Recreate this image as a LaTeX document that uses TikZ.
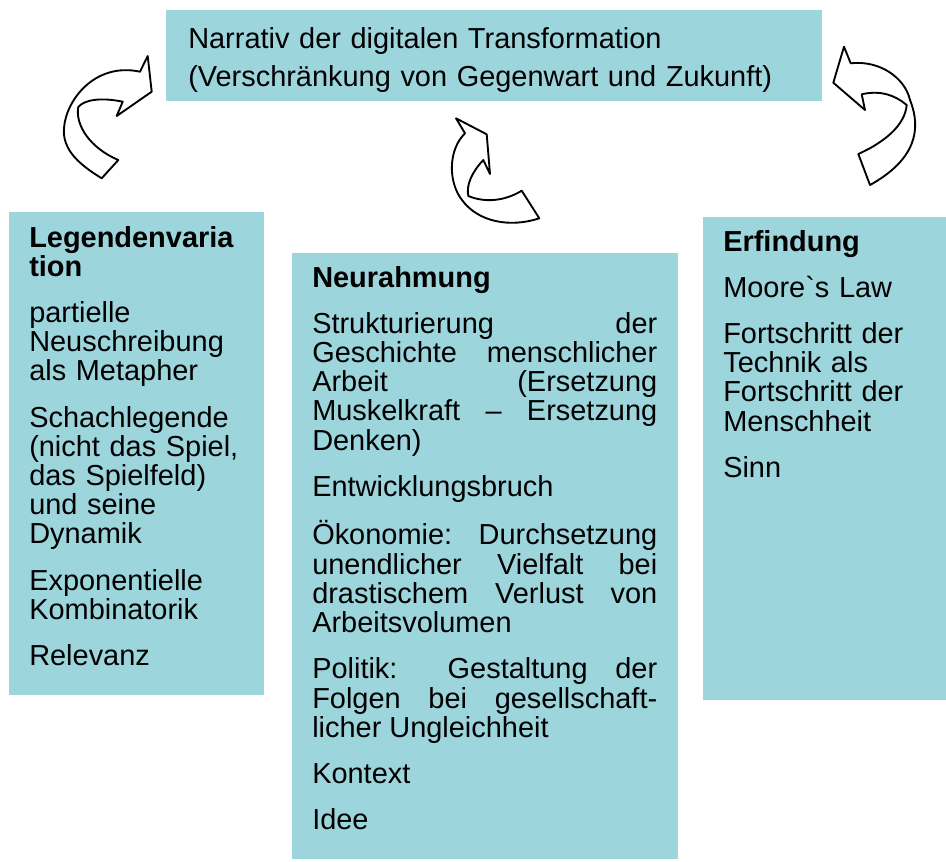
\documentclass[tikz,border=0pt]{standalone}
\usepackage{fontspec}
\setmainfont{Liberation Sans}
\definecolor{feldfarbe}{RGB}{157,213,221}

\begin{document}
\begin{tikzpicture}[x=.75pt, y=-.75pt,
        feld/.style={fill=feldfarbe},
        bogen/.style={draw=black, line width=1.4pt, fill=white, line join=round},
        txt/.style={anchor=base west, inner sep=0pt,
            font=\fontsize{21.7}{21.9}\selectfont,
            execute at begin node={\setlength{\parskip}{12.8pt}\tolerance=10000\hyphenpenalty=10000}}]
    \useasboundingbox (0,0) rectangle (946,861);
    % Felder
    \fill [feld] (166,10) rectangle (822,101);
    \fill [feld] (9,212) rectangle (264,695);
    \fill [feld] (292,253) rectangle (678,859);
    \fill [feld] (703,217) rectangle (946,700);
    % Bogenpfeile
    \draw [bogen]
        (101.7,178.3) .. controls (80,165) and (62,150) .. (64,128)
        .. controls (66,100) and (95,62) .. (140,71.7)
        -- (147.7,56) -- (151.7,91.7) -- (116.7,116) -- (122.7,101.7)
        .. controls (100,97) and (84,100) .. (78.3,107)
        .. controls (75,125) and (90,148) .. (118.3,160) -- cycle;
    \draw [bogen]
        (465,133.3) -- (456,118.3) -- (486.7,134.3) -- (490,174) -- (483.3,160)
        .. controls (472,172) and (466,185) .. (468.3,196)
        .. controls (485,203) and (505,201) .. (521.7,190.7)
        -- (539.3,218.3) .. controls (510,228) and (478,222) .. (462,200)
        .. controls (448,182) and (448,150) .. (465,133.3) -- cycle;
    \draw [bogen]
        (833.3,82.7) -- (844,46.7) -- (850.7,63.3)
        .. controls (880,60) and (905,78) .. (910,100)
        .. controls (922,130) and (915,160) .. (870,185)
        -- (858.3,154) .. controls (885,142) and (905,125) .. (906.7,105)
        .. controls (895,95) and (880,90) .. (861.7,94.3)
        -- (865,110) -- cycle;
    % Texte
    \node [txt, font=\fontsize{21.7}{28.5}\selectfont, text width=470pt, align=left]
        (narrativ) at (188,48)
        {Narrativ der digitalen Transformation\\(Verschränkung von Gegenwart und Zukunft)};
    \node [txt, text width=172pt, align=left] (legende) at (29,247)
        {\textbf{Legendenvaria}\\\textbf{tion}\par
        partielle\\Neuschreibung\\als Metapher\par
        Schachlegende\\(nicht das Spiel,\\das Spielfeld)\\und seine\\Dynamik\par
        Exponentielle\\Kombinatorik\par
        Relevanz};
    \node [txt, text width=258.75pt, align=justify] (neurahmung) at (312,287)
        {\textbf{Neurahmung}\par
        Strukturierung der\linebreak Geschichte menschlicher\linebreak Arbeit (Ersetzung\linebreak
        Muskelkraft – Ersetzung\linebreak Denken)\par
        Entwicklungsbruch\par
        Ökonomie: Durchsetzung\linebreak unendlicher Vielfalt bei\linebreak
        drastischem Verlust von\linebreak Arbeitsvolumen\par
        Politik: Gestaltung der\linebreak Folgen bei gesellschaft-\linebreak
        licher Ungleichheit\par
        Kontext\par
        Idee};
    \node [txt, text width=160pt, align=left] (erfindung) at (723,251)
        {\textbf{Erfindung}\par
        Moore\textasciigrave s Law\par
        Fortschritt der\\Technik als\\Fortschritt der\\Menschheit\par
        Sinn};
\end{tikzpicture}
\end{document}
